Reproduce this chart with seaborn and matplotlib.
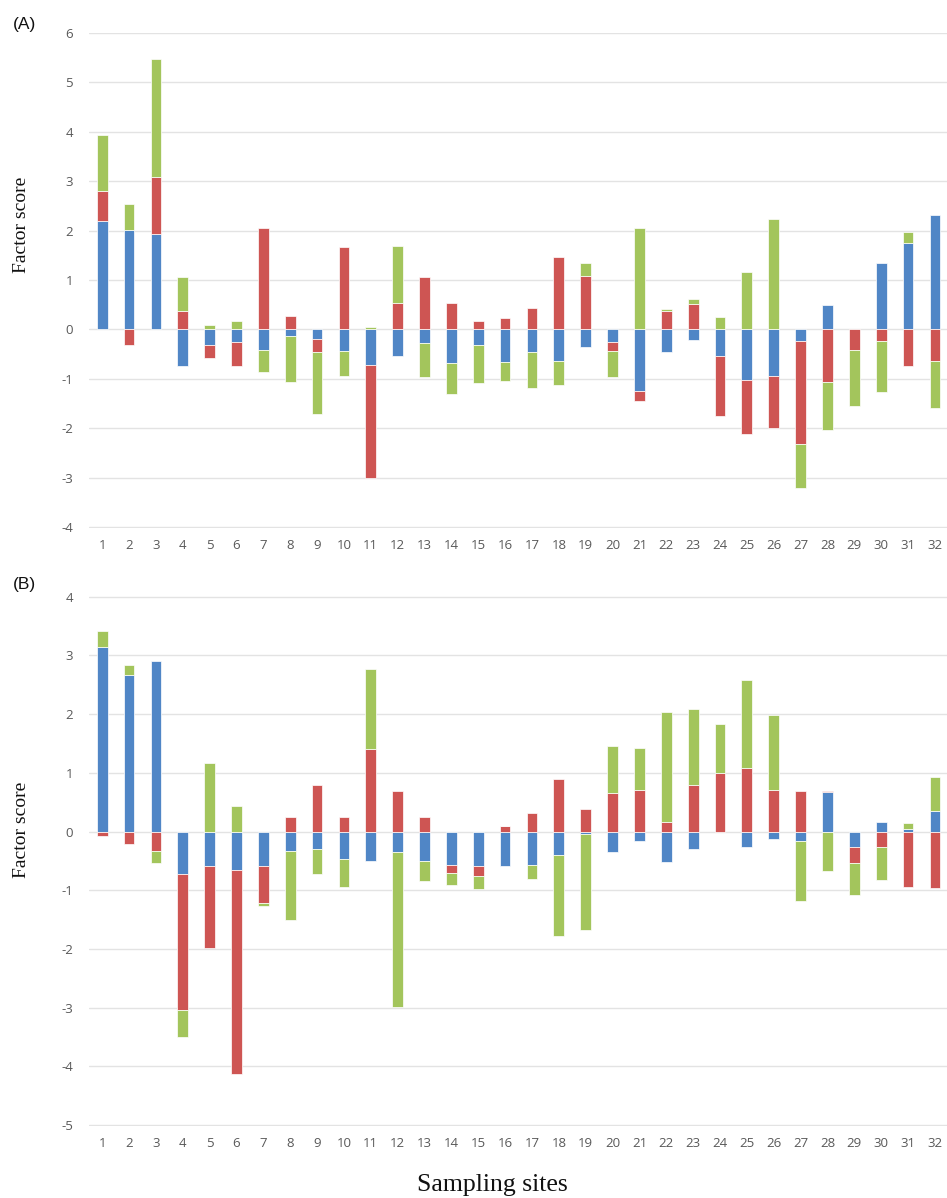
import numpy as np
import pandas as pd
import seaborn as sns
import matplotlib.pyplot as plt

# ---------------- data ----------------
sites = list(range(1, 33))
tick_labels = [str(s) for s in sites]

A_blue = [2.19, 2.01, 1.94, -0.74, -0.31, -0.25, -0.42, -0.14, -0.19, -0.43, -0.73, -0.53,
          -0.28, -0.68, -0.31, -0.66, -0.46, -0.63, -0.35, -0.26, -1.24, -0.45, -0.21, -0.53,
          -1.02, -0.95, -0.24, 0.49, 0.00, 1.35, 1.74, 2.31]
A_red = [0.62, -0.32, 1.14, 0.375, -0.26, -0.50, 2.05, 0.28, -0.27, 1.675, -2.27, 0.54,
         1.06, 0.54, 0.17, 0.24, 0.43, 1.46, 1.09, -0.17, -0.20, 0.375, 0.505, -1.23,
         -1.10, -1.05, -2.08, -1.07, -0.42, -0.23, -0.74, -0.63]
A_green = [1.13, 0.53, 2.40, 0.69, 0.08, 0.17, -0.44, -0.92, -1.26, -0.52, 0.04, 1.15,
           -0.69, -0.63, -0.77, -0.39, -0.73, -0.50, 0.26, -0.54, 2.06, 0.045, 0.12, 0.26,
           1.17, 2.23, -0.89, -0.97, -1.14, -1.04, 0.24, -0.97]

B_blue = [3.14, 2.66, 2.90, -0.73, -0.59, -0.66, -0.585, -0.33, -0.29, -0.46, -0.50, -0.35,
          -0.50, -0.565, -0.59, -0.585, -0.565, -0.395, -0.05, -0.35, -0.16, -0.52, -0.29, 0.00,
          -0.265, -0.12, -0.16, 0.68, -0.26, 0.16, 0.05, 0.35]
B_red = [-0.07, -0.21, -0.33, -2.32, -1.39, -3.47, -0.63, 0.245, 0.80, 0.245, 1.40, 0.69,
         0.245, -0.135, -0.165, 0.10, 0.31, 0.89, 0.38, 0.66, 0.71, 0.16, 0.80, 0.99,
         1.09, 0.70, 0.69, 0.01, -0.28, -0.26, -0.95, -0.97]
B_green = [0.27, 0.18, -0.21, -0.45, 1.16, 0.44, -0.06, -1.17, -0.44, -0.49, 1.37, -2.64,
           -0.35, -0.21, -0.22, 0.00, -0.245, -1.38, -1.63, 0.80, 0.72, 1.87, 1.28, 0.85,
           1.49, 1.29, -1.02, -0.67, -0.55, -0.56, 0.09, 0.58]

A_yticks = list(range(-4, 7))
B_yticks = list(range(-5, 5))

colors = ["#5086C6", "#CE5553", "#A3C55C"]

# ---------------- style ----------------
sns.set_theme(style="white")
plt.rcParams['font.family'] = ['Open Sans', 'DejaVu Sans']

W, H = 947, 1198
fig = plt.figure(figsize=(W / 100, H / 100), dpi=100)
left = 89 / W
axA = fig.add_axes([left, 1 - 527.5 / H, 1 - left, (527.5 - 32.5) / H])
axB = fig.add_axes([left, 1 - 1125.5 / H, 1 - left, (1125.5 - 596.2) / H])


def draw(ax, series, yticks):
    n = len(sites)
    pos = np.zeros(n)
    neg = np.zeros(n)
    for vals, color in zip(series, colors):
        v = np.asarray(vals, dtype=float)
        bottom = np.where(v >= 0, pos, neg)
        df = pd.DataFrame({"site": sites, "value": v})
        sns.barplot(data=df, x="site", y="value", bottom=bottom, color=color,
                    saturation=1, width=0.4, errorbar=None, orient="x", ax=ax,
                    edgecolor="white", linewidth=0.5, zorder=3)
        pos += np.where(v >= 0, v, 0)
        neg += np.where(v < 0, v, 0)
    ax.set_ylim(yticks[0] - 0.01, yticks[-1] + 0.01)
    ax.set_yticks(yticks)
    ax.set_yticklabels([str(t) for t in yticks])
    ax.set_xlim(-0.49, 31.45)
    ax.set_xticks(range(len(sites)))
    ax.set_xticklabels(tick_labels)
    ax.set_xlabel("")
    ax.set_ylabel("")
    ax.yaxis.grid(True, color="#E3E3E3", linewidth=1.0, zorder=0)
    ax.xaxis.grid(False)
    ax.set_axisbelow(True)
    for s in ax.spines.values():
        s.set_visible(False)
    ax.tick_params(axis="y", length=0, pad=11.5, labelsize=9.5, labelcolor="#595959")
    ax.tick_params(axis="x", length=0, pad=8, labelsize=9.5, labelcolor="#595959")


draw(axA, [A_blue, A_red, A_green], A_yticks)
draw(axB, [B_blue, B_red, B_green], B_yticks)

serif = ["Liberation Serif", "DejaVu Serif"]
fig.text(24 / W, 1 - 25 / H, "(A)", ha="center", va="center", fontsize=12.5,
         family=["Liberation Sans", "DejaVu Sans"], color="#111111")
fig.text(24 / W, 1 - 585 / H, "(B)", ha="center", va="center", fontsize=12.5,
         family=["Liberation Sans", "DejaVu Sans"], color="#111111")
fig.text(21 / W, 1 - 225 / H, "Factor score", rotation=90, ha="center", va="center",
         fontsize=14, family=serif, color="#111111")
fig.text(21 / W, 1 - 830 / H, "Factor score", rotation=90, ha="center", va="center",
         fontsize=14, family=serif, color="#111111")
fig.text(492 / W, 1 - 1191 / H, "Sampling sites", ha="center", va="baseline",
         fontsize=18.5, family=serif, color="#111111")

fig.savefig("out.png", dpi=100)
